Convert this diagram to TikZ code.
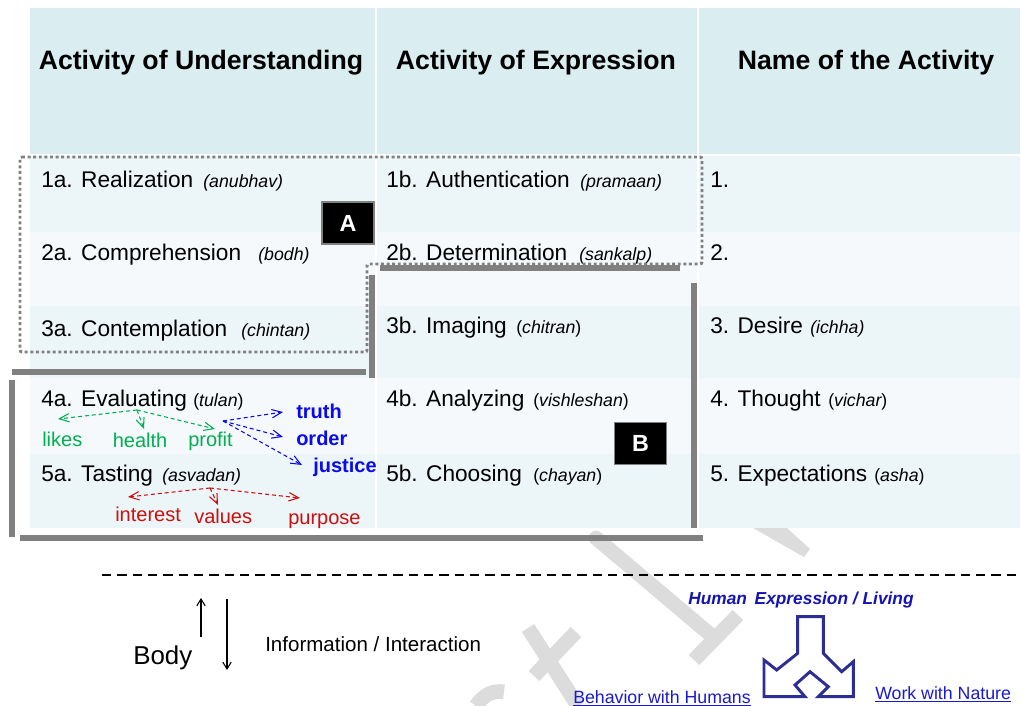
\documentclass[tikz,border=0pt]{standalone}
\usepackage{fontspec}
\setmainfont{Liberation Sans}
\usetikzlibrary{arrows.meta,positioning}
\definecolor{HeadTeal}{RGB}{218,237,240}
\definecolor{RowDark}{RGB}{236,245,248}
\definecolor{RowLight}{RGB}{245,249,251}
\definecolor{FrameGray}{RGB}{128,128,128}
\definecolor{LikeGreen}{RGB}{0,176,80}
\definecolor{TruthBlue}{RGB}{10,10,240}
\definecolor{TasteRed}{RGB}{205,15,15}
\definecolor{LivingBlue}{RGB}{20,20,180}
\definecolor{LinkBlue}{RGB}{25,25,210}
\definecolor{SplitBlue}{RGB}{45,45,150}
\definecolor{MarkGray}{RGB}{220,220,220}
\tikzset{
  headtext/.style={font=\fontsize{20}{24}\selectfont\bfseries,anchor=base,inner sep=0pt},
  celltext/.style={font=\fontsize{17}{20}\selectfont,anchor=base west,inner sep=0pt},
  hint/.style={font=\fontsize{13.3}{16}\selectfont\itshape,anchor=base west,inner sep=0pt},
  wordtext/.style={font=\fontsize{15}{18}\selectfont,anchor=base west,inner sep=0pt},
  markbox/.style={draw=FrameGray,fill=black,text=white,line width=0.8pt,
    minimum width=39pt,minimum height=31.5pt,font=\fontsize{17.5}{20}\selectfont\bfseries},
  dotframe/.style={draw=FrameGray,line width=2.2pt,dash pattern=on 2.2pt off 2pt,rounded corners=1.5pt},
  thickframe/.style={draw=FrameGray,line width=3.8pt},
  dasharrow/.style={-{Straight Barb[length=2.6mm,width=2.2mm]},dash pattern=on 3pt off 2.2pt,line width=0.8pt},
  watermark/.style={draw=MarkGray,line width=11pt},
  linktext/.style={font=\fontsize{13.3}{16}\selectfont,text=LinkBlue,anchor=base west,inner sep=0pt},
}
\begin{document}
\begin{tikzpicture}[x=0.75pt,y=-0.75pt,>=Latex]
\useasboundingbox (0,0) rectangle (1022,706);
\draw[watermark,line cap=round] (596,538) -- (712,636);
\draw[watermark] (694,660) -- (738,615);
\fill[MarkGray] (753,528) -- (787,528) -- (810,549) -- (804,557) -- cycle;
\draw[watermark] (528,628) -- (578,706);
\draw[watermark] (576,632) -- (534,676);
\draw[watermark] (476,706) .. controls (484,694) and (494,690) .. (504,692);
\fill[HeadTeal] (30,8) rectangle (375,154);
\fill[HeadTeal] (377,8) rectangle (697,154);
\fill[HeadTeal] (699,8) rectangle (1020,154);
\foreach \ya/\yb/\c in {156/232/RowDark,232/306/RowLight,306/378/RowDark,378/454/RowLight,454/528/RowDark}
  \foreach \xa/\xb in {30/375,377/697,699/1020}
    \fill[\c] (\xa,\ya) rectangle (\xb,\yb);
\node[headtext] (hund) at (201,70) {Activity of Understanding};
\node[headtext] (hexp) at (536,70) {Activity of Expression};
\node[headtext] (hact) at (866,70) {Name of the Activity};
\node[celltext] (und1) at (41,188) {1a. Realization};
\node[hint] (und1n) at (203,188) {(anubhav)};
\node[celltext] (und2) at (41,261) {2a. Comprehension};
\node[hint] (und2n) at (258,261) {(bodh)};
\node[celltext] (und3) at (41,336) {3a. Contemplation};
\node[hint] (und3n) at (241,336) {(chintan)};
\node[celltext] (und4) at (41,406) {4a. Evaluating};
\node[hint] (und4n) at (193,406) {{\upshape(}tulan{\upshape)}};
\node[celltext] (und5) at (41,481) {5a. Tasting};
\node[hint] (und5n) at (162,481) {(asvadan)};
\node[celltext] (exp1) at (386,188) {1b. Authentication};
\node[hint] (exp1n) at (580,188) {(pramaan)};
\node[celltext] (exp2) at (386,261) {2b. Determination};
\node[hint] (exp2n) at (579,261) {(sankalp)};
\node[celltext] (exp3) at (386,334) {3b. Imaging};
\node[hint] (exp3n) at (516,334) {{\upshape(}chitran{\upshape)}};
\node[celltext] (exp4) at (386,406) {4b. Analyzing};
\node[hint] (exp4n) at (533,406) {{\upshape(}vishleshan{\upshape)}};
\node[celltext] (exp5) at (386,481) {5b. Choosing};
\node[hint] (exp5n) at (533,481) {{\upshape(}chayan{\upshape)}};
\node[celltext] (act1) at (710,188) {1.};
\node[celltext] (act2) at (710,261) {2.};
\node[celltext] (act3) at (710,334) {3. Desire};
\node[hint] (act3n) at (810,334) {(ichha)};
\node[celltext] (act4) at (710,406) {4. Thought};
\node[hint] (act4n) at (828,406) {{\upshape(}vichar{\upshape)}};
\node[celltext] (act5) at (710,481) {5. Expectations};
\node[hint] (act5n) at (874,481) {{\upshape(}asha{\upshape)}};
\draw[dotframe] (20,157) -- (702,157) -- (702,264) -- (367,264) -- (367,352) -- (20,352) -- cycle;
\draw[thickframe] (380,268) -- (680,268);
\draw[thickframe] (694,283) -- (694,528);
\draw[thickframe] (20,538) -- (703,538);
\draw[thickframe] (12,380) -- (12,537);
\draw[thickframe] (12,372) -- (366,372);
\draw[thickframe] (372,275) -- (372,378);
\node[markbox] (boxA) at (348,223) {A};
\node[markbox] (boxB) at (640.5,443.5) {B};
\node[wordtext,text=LikeGreen] (likes) at (42,446) {likes};
\node[wordtext,text=LikeGreen] (health) at (112.5,447) {health};
\node[wordtext,text=LikeGreen] (profit) at (188,446) {profit};
\node[wordtext,text=TruthBlue,font=\fontsize{15}{18}\selectfont\bfseries] (truth) at (296,418) {truth};
\node[wordtext,text=TruthBlue,font=\fontsize{15}{18}\selectfont\bfseries] (order) at (296,445) {order};
\node[wordtext,text=TruthBlue,font=\fontsize{15}{18}\selectfont\bfseries] (justice) at (313,472) {justice};
\node[wordtext,text=TasteRed] (interest) at (115,521.5) {interest};
\node[wordtext,text=TasteRed] (values) at (194,523) {values};
\node[wordtext,text=TasteRed] (purpose) at (288,524) {purpose};
\coordinate (evalsrc) at (137,410);
\coordinate (likestip) at (58,419);
\coordinate (healthtip) at (144,429);
\coordinate (profittip) at (215,429);
\coordinate (truthsrc) at (223,421);
\coordinate (truthtip) at (283,412);
\coordinate (ordertip) at (283,437);
\coordinate (justicetip) at (302,465);
\coordinate (tastesrc) at (210,488);
\coordinate (interesttip) at (128,497);
\coordinate (valuestip) at (218,505);
\coordinate (purposetip) at (300,498);
\draw[dasharrow,LikeGreen] (evalsrc) -- (likestip);
\draw[dasharrow,LikeGreen] (evalsrc) -- (healthtip);
\draw[dasharrow,LikeGreen] (evalsrc) -- (profittip);
\draw[dasharrow,TruthBlue] (truthsrc) -- (truthtip);
\draw[dasharrow,TruthBlue] (truthsrc) -- (ordertip);
\draw[dasharrow,TruthBlue] (truthsrc) -- (justicetip);
\draw[dasharrow,TasteRed] (tastesrc) -- (interesttip);
\draw[dasharrow,TasteRed] (tastesrc) -- (valuestip);
\draw[dasharrow,TasteRed] (tastesrc) -- (purposetip);
\draw[black,line width=1.5pt,dash pattern=on 7pt off 4.5pt] (102,575) -- (1022,575);
\node[font=\fontsize{19.4}{22}\selectfont,anchor=base west,inner sep=0pt] (body) at (133,664) {Body};
\node[font=\fontsize{15.4}{18}\selectfont,anchor=base west,inner sep=0pt] (info) at (265,651) {Information / Interaction};
\coordinate (upfoot) at (201,637);
\coordinate (uphead) at (201,598);
\coordinate (downfoot) at (227,599);
\coordinate (downhead) at (227,670);
\draw[-{Straight Barb[length=1.8mm,width=2.2mm]},line width=0.8pt] (upfoot) -- (uphead);
\draw[-{Straight Barb[length=1.8mm,width=2.2mm]},line width=0.8pt] (downfoot) -- (downhead);
\node[font=\fontsize{13}{16}\selectfont\bfseries\itshape,text=LivingBlue,anchor=base west,inner sep=0pt] (living) at (688,604) {Human\, Expression / Living};
\node[linktext] (humans) at (573,703) {\underline{Behavior with Humans}};
\node[linktext] (nature) at (875,699) {\underline{Work with Nature}};
\draw[SplitBlue,line width=2.2pt,line join=miter] (797.7,616.7) -- (823.3,616.7) -- (823.3,653.3) -- (841.7,671.7) -- (853.3,661.7) -- (853.3,696.7) -- (818.3,696.7) -- (828.3,686.7) -- (810,671.7) -- (795,685) -- (805,696.7) -- (764,696.7) -- (764,660) -- (776.7,670) -- (797.7,653.3) -- cycle;
\end{tikzpicture}
\end{document}
